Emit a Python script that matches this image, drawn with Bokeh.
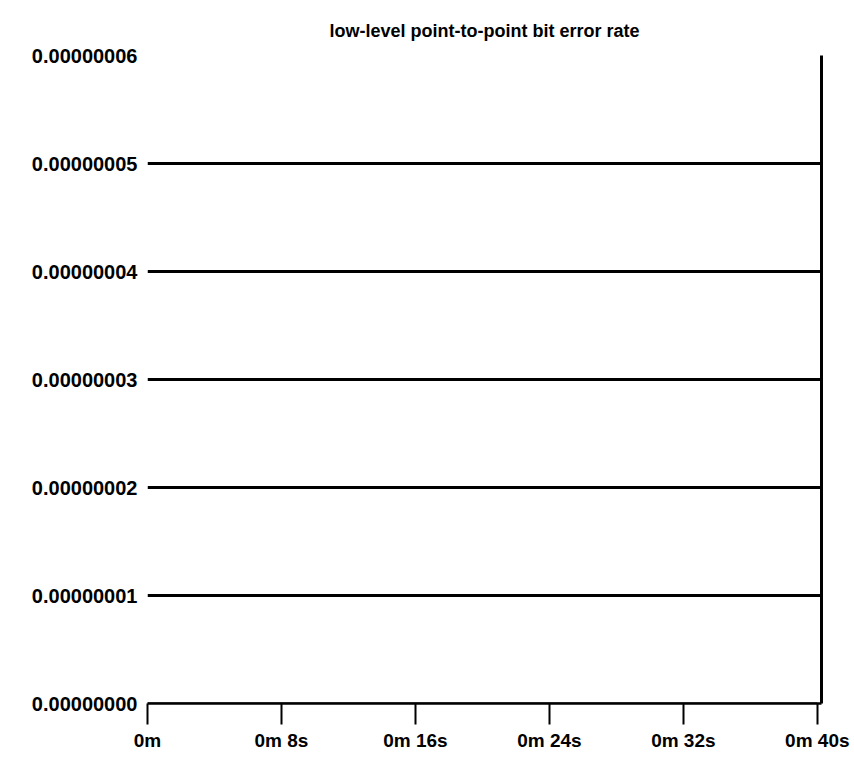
from bokeh.plotting import figure
from bokeh.models import FixedTicker, LinearAxis, Range1d
from bokeh.embed import file_html
from bokeh.resources import INLINE

# ---- data ----
time_s = [0, 8, 16, 24, 32, 40]
bit_error_rate = [0.0, 0.0, 0.0, 0.0, 0.0, 0.0]

x_tick_values = [0, 8, 16, 24, 32, 40]
x_tick_labels = ["0m", "0m 8s", "0m 16s", "0m 24s", "0m 32s", "0m 40s"]

y_tick_values = [0.0, 1e-8, 2e-8, 3e-8, 4e-8, 5e-8, 6e-8]
y_tick_labels = ["0.00000000", "0.00000001", "0.00000002", "0.00000003",
                 "0.00000004", "0.00000005", "0.00000006"]
y_grid_values = [1e-8, 2e-8, 3e-8, 4e-8, 5e-8]

title_text = "low-level point-to-point bit error rate"

FONT = "Liberation Sans"

p = figure(width=854, height=770, output_backend="svg", toolbar_location=None,
           x_range=Range1d(0, 40.25), y_range=Range1d(0, 6e-8),
           min_border_left=147, min_border_right=33,
           min_border_top=55, min_border_bottom=67,
           title=title_text)

p.background_fill_color = "white"
p.border_fill_color = "white"
p.outline_line_color = None

p.title.align = "center"
p.title.vertical_align = "top"
p.title.text_font = FONT
p.title.text_font_style = "bold"
p.title.text_font_size = "18px"
p.title.text_color = "black"
p.title.standoff = 26

# series
p.line(time_s, bit_error_rate, line_color="black", line_width=2)

# x axis
xa = p.xaxis[0]
xa.ticker = FixedTicker(ticks=x_tick_values)
xa.major_label_overrides = dict(zip(x_tick_values, x_tick_labels))
xa.axis_line_color = "black"
xa.axis_line_width = 2.5
xa.major_tick_line_color = "black"
xa.major_tick_line_width = 2
xa.major_tick_in = 0
xa.major_tick_out = 21
xa.minor_tick_line_color = None
xa.major_label_standoff = 5
xa.major_label_text_font = FONT
xa.major_label_text_font_style = "bold"
xa.major_label_text_font_size = "19px"
xa.major_label_text_color = "black"

# y axis
ya = p.yaxis[0]
ya.ticker = FixedTicker(ticks=y_tick_values)
ya.major_label_overrides = dict(zip(y_tick_values, y_tick_labels))
ya.axis_line_color = None
ya.major_tick_line_color = None
ya.major_tick_in = 0
ya.major_tick_out = 0
ya.minor_tick_line_color = None
ya.major_label_standoff = 10
ya.major_label_text_font = FONT
ya.major_label_text_font_style = "bold"
ya.major_label_text_font_size = "20px"
ya.major_label_text_color = "black"

# grid
p.xgrid.grid_line_color = None
p.ygrid.ticker = FixedTicker(ticks=y_grid_values)
p.ygrid.grid_line_color = "black"
p.ygrid.grid_line_width = 3
p.ygrid.grid_line_alpha = 1.0

# right border line
ra = LinearAxis(ticker=FixedTicker(ticks=[]))
ra.axis_line_color = "black"
ra.axis_line_width = 3
ra.major_tick_line_color = None
ra.minor_tick_line_color = None
ra.major_tick_in = 0
ra.major_tick_out = 0
p.add_layout(ra, "right")

open("out.html", "w").write(file_html(p, INLINE))
